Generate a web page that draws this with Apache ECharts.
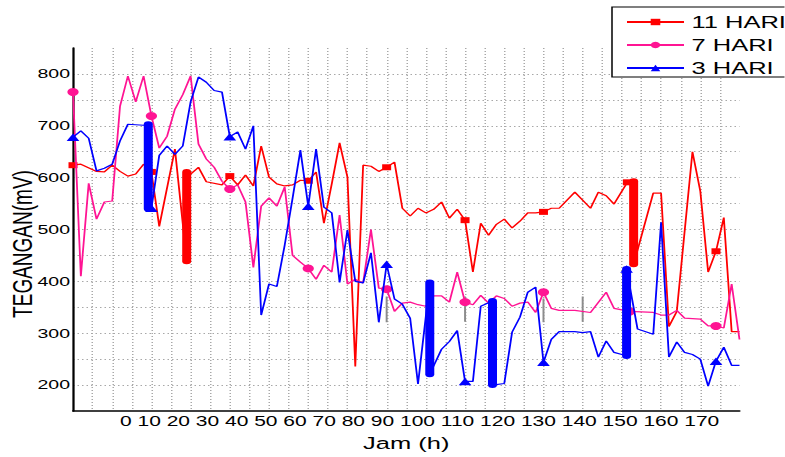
<!DOCTYPE html>
<html><head><meta charset="utf-8">
<script src="https://cdn.jsdelivr.net/npm/echarts@6/dist/echarts.min.js"></script>
<style>
html,body{margin:0;padding:0;background:#fff;overflow:hidden;}
#wrap{width:785px;height:457px;overflow:hidden;position:relative;}
#chart{width:523.333px;height:457px;transform:scaleX(1.5);transform-origin:0 0;}
</style></head><body><div id="wrap"><div id="chart"></div></div>
<script>
// ---- data ----
const seriesNames = ['11 HARI', '7 HARI', '3 HARI'];
const hourTicks = [0,10,20,30,40,50,60,70,80,90,100,110,120,130,140,150,160,170];
const yTickLabels = [200,300,400,500,600,700,800];

// 11 HARI (x = sample index)
const x11 = [0,1,3,4,5,6,7,8,9,10,11,13,14.5,14.5,15,16,17,19,20,21,22,23,24,25,26,27,28,29,30,31,32,33,34,35,36,37,38,39,40,41,42,43,44,45,46,47,48,49,50,51,52,53,54,55,56,57,58,59,60,61,62,64,66,67,68,69,70.7,71.5,71.5,74,75,76,77,79,80,81,82,83,84,85];
const v11 = [624,626,612,611,624,612,603,607,626,611,506,655,439,611,607,620,592,586,603,586,605,584,661,601,588,584,586,595,594,611,512,588,667,601,236,624,622,612,620,630,541,526,541,532,539,553,522,539,518,418,512,489,510,520,503,516,532,532,534,541,541,572,541,572,565,549,591,593,433,570,570,313,342,650,574,418,458,523,303,303];
const mark11 = [0,10,20,30,40,50,60,70.7,82];

// 7 HARI
const x7 = [0,1,2,3,4,5,6,7,8,9,10,11,12,13,14,15,16,17,18,19,20,21,22,23,24,25,26,27,28,29,30,31,32,33,34,35,36,37,38,39,40,41,42,43,44,45,46,47,48,49,50,51,52,53,54,55,56,57,58,59,60,61,62,64,66,68,69,71,74,75,76,77,78,80,81,82,83,84,85];
const v7 = [765,410,589,520,553,555,738,796,746,796,719,657,680,732,760,796,665,636,620,593,578,586,553,427,545,561,545,582,450,437,425,404,431,418,528,395,404,397,500,387,385,342,358,360,355,352,372,372,360,418,360,355,373,358,372,367,352,358,360,340,379,348,344,344,340,379,348,342,340,335,335,344,329,327,314,314,310,395,288];
const mark7 = [0,10,20,30,40,50,60,71,82];

// 3 HARI
const x3 = [0,1,2,3,4,5,6,7,9,9.6,9.6,10,11,12,13,14,15,16,17,18,19,20,21,22,23,24,25,26,27,28,29,30,31,32,33,34,35,36,37,38,39,40,41,42,43,44,45.5,45.5,47,48,49,50,51,52,53.5,53.5,55,56,57,58,59,60,61,62,64,65,66,67,68,69,70,70.6,70.6,72,74,75,76,77,78,79,80,81,82,83,84,85];
const v3 = [678,690,676,613,618,626,671,703,701,703,540,541,643,661,645,661,746,794,784,768,765,679,688,655,700,335,395,390,470,560,653,545,655,543,532,398,499,400,397,455,321,433,366,356,329,202,398,221,269,284,305,207,207,352,362,200,203,302,331,379,389,244,288,303,303,301,303,254,285,263,259,256,424,308,298,514,254,283,263,259,250,198,246,273,238,238];
const mark3 = [0,10,20,30,40,50,60,70.6,82];

// thick vertical bands
const bandX    = [9.6, 14.5, 45.5, 53.5, 70.6, 71.5];
const bandFrom = [703, 611, 398, 362, 424, 593];
const bandTo   = [540, 439, 221, 200, 256, 433];
const bandSeries = [2, 0, 2, 2, 2, 0];

// grey error ranges
const errX    = [40, 50, 60, 65];
const errLow  = [321, 322, 321, 322];
const errHigh = [371, 371, 367, 371];

// ---- chart ----
const S = 1.5;
const colors = ['#ff0000', '#ff1493', '#0000ff'];
const symbols = ['rect', 'circle', 'triangle'];
const symSizes = [[6, 6], [7.5, 8], [8.5, 7.5]];
const xs = [x11, x7, x3], vs = [v11, v7, v3], marks = [mark11, mark7, mark3];

function markerIndices(x, m) {
  const set = new Set();
  m.forEach(mx => { set.add(x.lastIndexOf(mx)); });
  return set;
}

const series = [];
for (let i = 0; i < 3; i++) {
  const mi = markerIndices(xs[i], marks[i]);
  const sz = symSizes[i];
  series.push({
    name: seriesNames[i],
    type: 'line',
    data: xs[i].map((x, j) => [x, vs[i][j]]),
    symbol: symbols[i],
    symbolSize: (val, p) => mi.has(p.dataIndex) ? sz : 0,
    showSymbol: true,
    lineStyle: { color: colors[i], width: 1.2 },
    itemStyle: { color: colors[i] },
    z: 3 + i
  });
}
errX.forEach((ex, k) => {
  series.push({
    type: 'line',
    data: [[ex, errLow[k]], [ex, errHigh[k]]],
    symbol: 'none',
    lineStyle: { color: '#8c8c8c', width: 1.3 },
    z: 2, silent: true
  });
});
bandX.forEach((bx, k) => {
  series.push({
    type: 'line',
    data: [[bx, bandFrom[k]], [bx, bandTo[k]]],
    symbol: 'none',
    lineStyle: { color: colors[bandSeries[k]], width: 6, cap: 'round' },
    z: 7, silent: true
  });
});

const chart = echarts.init(document.getElementById('chart'), null, { renderer: 'svg' });
const grid = { left: 73 / S, right: (785 - 740) / S, top: 48, bottom: 457 - 413 };
const gridLine = { color: '#a8a8a8', width: 1, type: [1, 2] };

chart.setOption({
  animation: false,
  backgroundColor: '#fff',
  textStyle: { fontFamily: 'Liberation Sans, Arial, sans-serif' },
  grid: grid,
  xAxis: {
    type: 'value', min: 0, max: 85, interval: 2.5,
    axisLine: { show: true, onZero: false, lineStyle: { color: '#000', width: 1.5 } },
    axisTick: { show: false },
    axisLabel: { show: false },
    splitLine: { show: true, showMinLine: false, showMaxLine: false, lineStyle: gridLine },
    name: 'Jam (h)', nameLocation: 'middle', nameGap: 24,
    nameTextStyle: { fontSize: 17, color: '#000' }
  },
  yAxis: {
    type: 'value', min: 150, max: 850, interval: 50,
    axisLine: { show: true, lineStyle: { color: '#000', width: 1.5 } },
    axisTick: { show: false },
    axisLabel: { fontSize: 13, color: '#000', margin: 2,
      formatter: v => yTickLabels.includes(v) ? String(v) : '' },
    splitLine: { show: true, showMinLine: false, showMaxLine: false, lineStyle: gridLine }
  },
  legend: {
    data: seriesNames, orient: 'vertical', left: 612 / S, top: 7,
    itemWidth: 38, itemHeight: 8, itemGap: 5, padding: [6, 8, 0, 9],
    borderColor: '#000', borderWidth: 1, backgroundColor: '#fff',
    textStyle: { fontSize: 17, color: '#000', lineHeight: 18 }, z: 10
  },
  graphic: [
    { type: 'text', left: 120 / S, top: 414,
      style: { text: hourTicks.join(' '), fontSize: 14, fill: '#000', fontFamily: 'Liberation Sans, Arial, sans-serif' } },
    { type: 'text', x: 22 / S, y: 244, rotation: Math.PI / 2,
      style: { text: 'TEGANGAN(mV)', fontSize: 19, fill: '#000', align: 'center', verticalAlign: 'middle', fontFamily: 'Liberation Sans, Arial, sans-serif' } }
  ],
  series: series
});
</script></body></html>
